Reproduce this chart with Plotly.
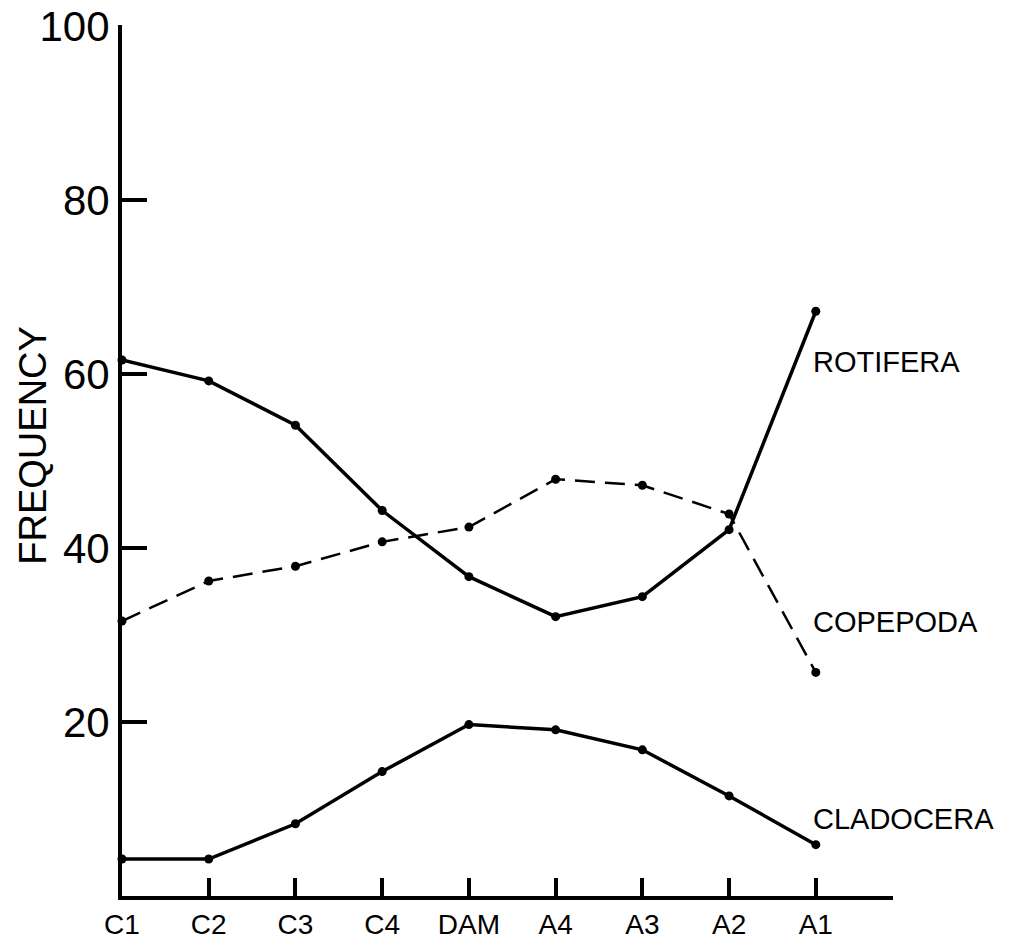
import plotly.graph_objects as go

categories = ["C1", "C2", "C3", "C4", "DAM", "A4", "A3", "A2", "A1"]
rotifera = [61.6, 59.2, 54.1, 44.3, 36.7, 32.1, 34.4, 42.1, 67.2]
copepoda = [31.6, 36.2, 37.9, 40.7, 42.4, 47.9, 47.2, 43.9, 25.7]
cladocera = [4.25, 4.25, 8.3, 14.3, 19.7, 19.1, 16.8, 11.5, 5.9]
series_labels = ["ROTIFERA", "COPEPODA", "CLADOCERA"]
label_y = [61.4, 31.5, 8.8]
y_ticks = [20, 40, 60, 80, 100]

FONT = "Liberation Sans, Arial, sans-serif"
xs = list(range(len(categories)))

fig = go.Figure()
fig.add_trace(go.Scatter(x=xs, y=rotifera, mode="lines+markers",
                         line=dict(color="black", width=3.5),
                         marker=dict(color="black", size=9), cliponaxis=False))
fig.add_trace(go.Scatter(x=xs, y=copepoda, mode="lines+markers",
                         line=dict(color="black", width=2.5, dash="20px,10px"),
                         marker=dict(color="black", size=9), cliponaxis=False))
fig.add_trace(go.Scatter(x=xs, y=cladocera, mode="lines+markers",
                         line=dict(color="black", width=3.5),
                         marker=dict(color="black", size=9), cliponaxis=False))

for txt, yv in zip(series_labels, label_y):
    fig.add_annotation(text=txt, xref="paper", yref="y", x=0.893, y=yv,
                       xanchor="left", yanchor="middle", showarrow=False,
                       font=dict(family=FONT, size=29, color="black"))

fig.add_annotation(text="FREQUENCY", xref="paper", yref="paper", x=-0.1154, y=0.517,
                   textangle=-90, xanchor="center", yanchor="middle", showarrow=False,
                   font=dict(family=FONT, size=38, color="black"))

fig.update_layout(
    width=1009, height=943,
    margin=dict(l=122, r=116, t=25, b=47),
    paper_bgcolor="white", plot_bgcolor="white",
    showlegend=False,
    font=dict(family=FONT, color="black"),
    xaxis=dict(range=[0, 8.89], tickvals=xs, ticktext=categories, automargin=False,
               showgrid=False, zeroline=False, showline=True, linecolor="black", linewidth=4,
               ticks="inside", ticklen=18, tickwidth=3.5, tickcolor="black",
               ticklabelstandoff=0,
               tickfont=dict(family=FONT, size=28, color="black")),
    yaxis=dict(range=[0, 100.1], tickvals=y_ticks, automargin=False,
               showgrid=False, zeroline=False, showline=True, linecolor="black", linewidth=4,
               ticks="inside", ticklen=25, tickwidth=3.5, tickcolor="black",
               ticklabelstandoff=0,
               tickfont=dict(family=FONT, size=42, color="black")),
)

fig.write_html("out.html")
